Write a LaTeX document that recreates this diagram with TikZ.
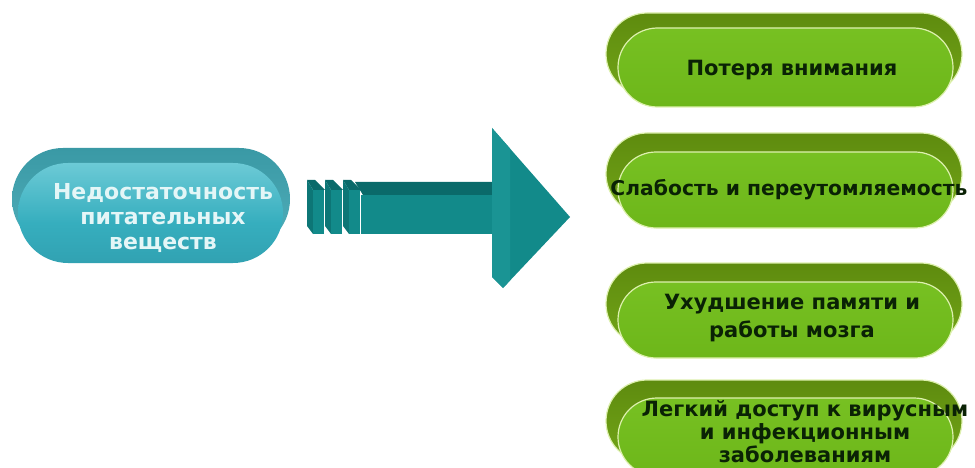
\documentclass[tikz,border=0pt]{standalone}
\usepackage{fontspec}
\setmainfont{DejaVu Sans}
\usetikzlibrary{shapes.misc}
\definecolor{arrF}{HTML}{128A8A}
\definecolor{arrS}{HTML}{1A9494}
\definecolor{arrT}{HTML}{0A6A6A}
\definecolor{arrD}{HTML}{0D7676}
\definecolor{glow}{HTML}{DDF0AE}
\definecolor{gtxt}{HTML}{0A2205}
\definecolor{ttxt}{HTML}{E4F6F7}
\definecolor{tA}{HTML}{7CCFD8}
\definecolor{tB}{HTML}{2E9AAA}
\definecolor{tC}{HTML}{36AEBE}
\definecolor{tD}{HTML}{6CCAD6}
\definecolor{tE}{HTML}{BDEBF1}
\definecolor{tbA}{HTML}{5DBAC6}
\definecolor{tbB}{HTML}{2E8E9A}
\definecolor{gA}{HTML}{68B216}
\definecolor{gB}{HTML}{7CC526}
\definecolor{gbA}{HTML}{7CB21C}
\definecolor{gbB}{HTML}{547E0A}
\pgfdeclareverticalshading{tealfront}{100bp}{color(0bp)=(tA); color(12bp)=(tB); color(45bp)=(tC); color(75bp)=(tD); color(100bp)=(tE)}
\pgfdeclareverticalshading{tealback}{100bp}{color(0bp)=(tbA); color(100bp)=(tbB)}
\pgfdeclareverticalshading{greenfront}{100bp}{color(0bp)=(gA); color(100bp)=(gB)}
\pgfdeclareverticalshading{greenback}{100bp}{color(0bp)=(gbA); color(100bp)=(gbB)}
\tikzset{
  pill/.style={rounded rectangle, inner sep=0pt},
  gfront/.style={pill, shading=greenfront, draw=glow, line width=1.2pt},
  gback/.style={pill, shading=greenback, draw=glow, line width=1.2pt},
  tfront/.style={pill, shading=tealfront},
  tback/.style={pill, shading=tealback},
  gtext/.style={text=gtxt, font=\fontsize{21}{27}\selectfont\bfseries, align=center},
  ttext/.style={text=ttxt, font=\fontsize{22}{25}\selectfont\bfseries, align=center}
}
\begin{document}
\begin{tikzpicture}[x=1pt,y=-1pt]
\useasboundingbox (0,0) rectangle (975,468);
\clip (0,0) rectangle (975,468);
% left pill
\node[tback, minimum width=278pt, minimum height=102pt] (lb) at (151,199) {};
\node[tfront, minimum width=265pt, minimum height=100pt] (lf) at (150.5,213) {};
\node[ttext] (lt) at (163,218) {Недостаточность\\питательных\\веществ};
% arrow tail stripes
\foreach \x in {307,325,343}{
  \fill[arrT] (\x,180) -- (\x+8,180) -- (\x+18,190) -- (\x+6,190) -- cycle;
  \fill[arrD] (\x,180) -- (\x+6,190) -- (\x+6,234) -- (\x,226) -- cycle;
  \fill[arrF] (\x+6,190) rectangle (\x+17,234);
}
% shaft
\fill[arrT] (355,182) -- (492,182) -- (505,195) -- (363,195) -- cycle;
\fill[arrF] (361,195) rectangle (495,234);
% head
\fill[arrF] (492,128) -- (570,217) -- (503,288) -- (492,277) -- cycle;
\fill[arrS] (492,128) -- (510,148.5) -- (510,280.6) -- (503,288) -- (492,277) -- cycle;
% green pills
\node[gback, minimum width=356pt, minimum height=82pt] (b1) at (784,54) {};
\node[gfront, minimum width=335pt, minimum height=79pt] (f1) at (785.5,67.5) {};
\node[gtext] (t1) at (792,70) {Потеря внимания};
\node[gback, minimum width=356pt, minimum height=82pt] (b2) at (784,174) {};
\node[gfront, minimum width=335pt, minimum height=76pt] (f2) at (785.5,190) {};
\node[gtext, font=\fontsize{20.3}{27}\selectfont\bfseries] (t2) at (789,190) {Слабость и переутомляемость};
\node[gback, minimum width=356pt, minimum height=82pt] (b3) at (784,304) {};
\node[gfront, minimum width=335pt, minimum height=76pt] (f3) at (785.5,320) {};
\node[gtext, font=\fontsize{21}{28}\selectfont\bfseries] (t3) at (792,318) {Ухудшение памяти и\\работы мозга};
\node[gback, minimum width=356pt, minimum height=82pt] (b4) at (784,421) {};
\node[gfront, minimum width=335pt, minimum height=78pt] (f4) at (785.5,437) {};
\node[gtext, font=\fontsize{21}{23}\selectfont\bfseries] (t4) at (805,432) {Легкий доступ к вирусным\\и инфекционным\\заболеваниям};
\end{tikzpicture}
\end{document}
